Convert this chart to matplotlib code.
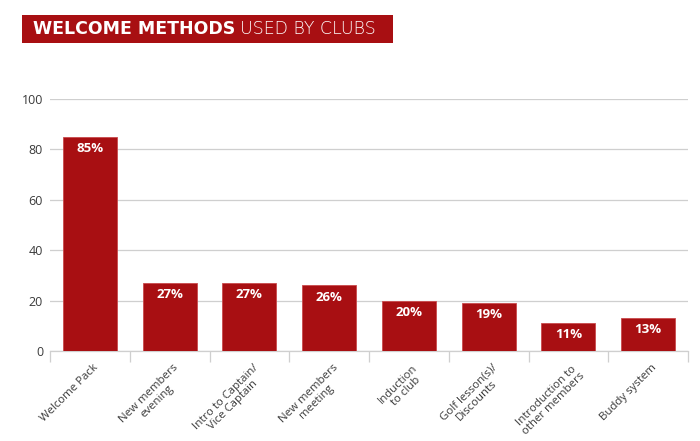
import matplotlib
matplotlib.use("Agg")
import matplotlib.pyplot as plt
from matplotlib.patches import Rectangle
import numpy as np

categories = ["Welcome Pack", "New members\nevening", "Intro to Captain/\nVice Captain",
              "New members\nmeeting", "Induction\nto club", "Golf lesson(s)/\nDiscounts",
              "Introduction to\nother members", "Buddy system"]
values = [85, 27, 27, 26, 20, 19, 11, 13]
yticks = [0, 20, 40, 60, 80, 100]

RED = "#A80F12"
GRID = "#cfcfcf"
TXT = "#3a3a3a"

plt.rcParams['font.family'] = ['Open Sans', 'DejaVu Sans']

fig = plt.figure(figsize=(7, 4.41), dpi=100)
ax = fig.add_axes([50/700, 1-351/441, 638/700, 252/441])

x = np.arange(len(categories))
bars = ax.bar(x, values, width=0.68, color=RED, edgecolor="#c94a4c", linewidth=0.6, zorder=3)
for xi, v in zip(x, values):
    ax.text(xi, v - 2.0, f"{v}%", ha="center", va="top", color="white",
            fontsize=9.5, fontweight="bold", zorder=4)

ax.set_xlim(-0.5, len(categories) - 0.5)
ax.set_ylim(0, 100)
ax.set_yticks(yticks)
ax.set_yticklabels([str(t) for t in yticks], fontsize=9, color=TXT)
ax.tick_params(axis="y", length=0, pad=5)
ax.yaxis.grid(True, color=GRID, linewidth=0.9, zorder=0)
for s in ax.spines.values():
    s.set_visible(False)
ax.axhline(0, color=GRID, linewidth=0.9, zorder=2, clip_on=False)

# category boundary ticks
ax.set_xticks(np.arange(len(categories) + 1) - 0.5, minor=False)
ax.set_xticklabels([""] * (len(categories) + 1))
ax.tick_params(axis="x", length=8, color=GRID, width=0.9)
trans = ax.get_xaxis_transform()
for xi, lab in zip(x, categories):
    ax.text(xi + 0.04, -0.045, lab, transform=trans, rotation=45, ha="right", va="top",
            rotation_mode="anchor", multialignment="center", fontsize=8.2, color=TXT,
            linespacing=1.0)

# Title banner
fig.patches.append(Rectangle((22/700, 1-43/441), 371/700, 28/441, transform=fig.transFigure,
                             facecolor=RED, edgecolor="none"))
t1 = fig.text(33/700, 1-29.5/441, "WELCOME METHODS", color="white", fontsize=12.5,
              fontweight="bold", va="center", ha="left", family="DejaVu Sans")
fig.canvas.draw()
bb = t1.get_window_extent()
fig.text((bb.x1 + 5)/700, 1-29.5/441, "USED BY CLUBS", color="white", fontsize=12.5,
         fontweight="light", va="center", ha="left", family="DejaVu Sans")

fig.savefig("out.png", dpi=100)
